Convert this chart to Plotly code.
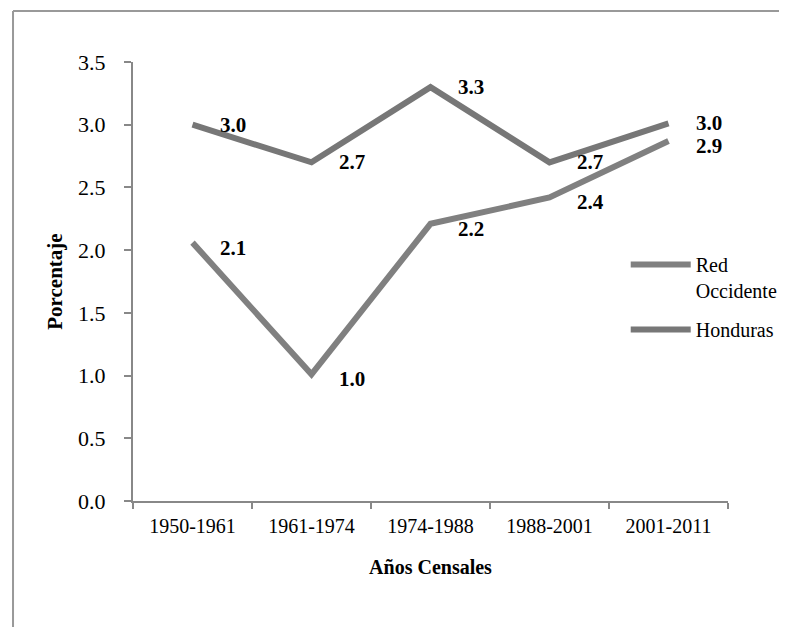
import plotly.graph_objects as go

categories = ["1950-1961", "1961-1974", "1974-1988", "1988-2001", "2001-2011"]
red_occidente = [2.06, 1.01, 2.21, 2.42, 2.87]
honduras = [3.0, 2.7, 3.3, 2.7, 3.01]
series_names = ["Red<br>Occidente", "Honduras"]
y_ticks = [0.0, 0.5, 1.0, 1.5, 2.0, 2.5, 3.0, 3.5]

FONT = "Liberation Serif"
W, H = 787, 627
OFF = 8  # page body margin
L, T = 133 - OFF, 62 - OFF
R = W - (738 - OFF)
B = H - (501 - OFF)
pw, ph = W - L - R, H - T - B

fig = go.Figure()
fig.add_trace(go.Scatter(x=categories, y=red_occidente, mode="lines", name=series_names[0],
                         legendgroup="a", line=dict(color="#808080", width=6)))
fig.add_trace(go.Scatter(x=categories, y=honduras, mode="lines", name=series_names[1],
                         legendgroup="b", line=dict(color="#777777", width=6)))

annotations = []
for series, dy in ((honduras, 0), (red_occidente, -5)):
    for c, v in zip(categories, series):
        annotations.append(dict(x=c, y=v, xref="x", yref="y", text=f"<b>{v:.1f}</b>",
                                showarrow=False, xanchor="left", yanchor="middle",
                                xshift=25, yshift=dy,
                                font=dict(family=FONT, size=21, color="black")))

# outer frame (top and left visible)
fx = (11 - OFF - L) / pw
fy = (H - B - (11 - OFF)) / ph
shapes = [
    dict(type="line", xref="paper", yref="paper", x0=fx, x1=fx, y0=-1, y1=fy,
         line=dict(color="#999999", width=2)),
    dict(type="line", xref="paper", yref="paper", x0=fx, x1=2, y0=fy, y1=fy,
         line=dict(color="#999999", width=2)),
]

fig.update_layout(
    width=W, height=H,
    margin=dict(l=L, r=R, t=T, b=B),
    paper_bgcolor="white", plot_bgcolor="white",
    font=dict(family=FONT, color="black", size=20),
    showlegend=True,
    legend=dict(x=(634 - OFF - L) / pw, y=(H - B - (245 - OFF)) / ph, xanchor="left", yanchor="top",
                bgcolor="rgba(0,0,0,0)", itemwidth=60, valign="top",
                font=dict(family=FONT, size=20, color="black"), tracegroupgap=10),
    annotations=annotations,
    shapes=shapes,
    xaxis=dict(range=[-0.5, 4.5], showline=True, linecolor="#888888", linewidth=2, ticks="outside",
               tickson="boundaries", ticklen=6, tickcolor="#888888", tickwidth=2,
               showgrid=False, tickfont=dict(family=FONT, size=20), ticklabelstandoff=6,
               automargin=False,
               title=dict(text="<b>Años Censales</b>", font=dict(family=FONT, size=20), standoff=24)),
    yaxis=dict(range=[0, 3.5], tickvals=y_ticks, ticktext=[f"{t:.1f}" for t in y_ticks],
               showline=True, linecolor="#888888", linewidth=2, ticks="outside",
               ticklen=7, tickcolor="#888888", tickwidth=2, showgrid=False, zeroline=False,
               tickfont=dict(family=FONT, size=22), ticklabelstandoff=14, automargin=False,
               title=dict(text="<b>Porcentaje</b>", font=dict(family=FONT, size=21), standoff=10)),
)

fig.write_html("out.html")
